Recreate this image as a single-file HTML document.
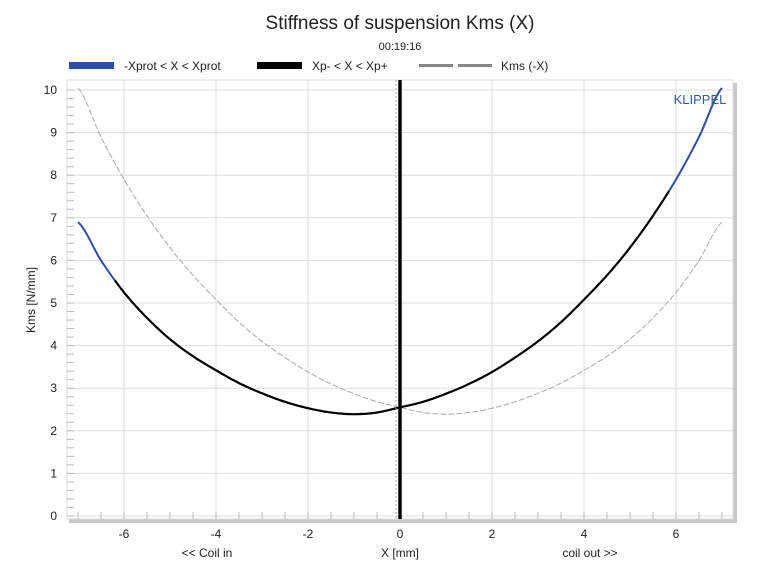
<!DOCTYPE html>
<html><head><meta charset="utf-8"><style>
body{margin:0;background:#fff;font-family:"Liberation Sans",sans-serif;}
svg text{font-family:"Liberation Sans",sans-serif;}
</style></head><body>
<svg id="c" width="765" height="573" xmlns="http://www.w3.org/2000/svg">
<text x="400" y="29" text-anchor="middle" font-size="19" fill="#222">Stiffness of suspension Kms (X)</text>
<text x="400" y="50" text-anchor="middle" font-size="11" fill="#222">00:19:16</text>
<g>
<rect x="69" y="62" width="45" height="7" fill="#2e50a3"/>
<text x="124" y="70" font-size="12" fill="#222">-Xprot &lt; X &lt; Xprot</text>
<rect x="257" y="62" width="45" height="7" fill="#000"/>
<text x="312" y="70" font-size="12" fill="#222">Xp- &lt; X &lt; Xp+</text>
<line x1="419" y1="65.5" x2="492" y2="65.5" stroke="#888" stroke-width="3" stroke-dasharray="34,5"/>
<text x="501" y="70" font-size="12" fill="#222">Kms (-X)</text>
</g>
<rect x="69" y="83" width="668" height="440" fill="#c8c8c8"/>
<rect x="67" y="80" width="666" height="439" fill="#fff" stroke="#ddd"/>
<g id="grid"></g><g id="axes"></g><g id="series"></g>
<text x="700" y="104" text-anchor="middle" font-size="13" fill="#3a5aa0">KLIPPEL</text>
<text x="400" y="557" text-anchor="middle" font-size="12" fill="#222">X [mm]</text>
<text x="207" y="557" text-anchor="middle" font-size="12" fill="#222">&lt;&lt; Coil in</text>
<text x="590" y="557" text-anchor="middle" font-size="12" fill="#222">coil out &gt;&gt;</text>
<text x="0" y="0" transform="translate(35,300) rotate(-90)" text-anchor="middle" font-size="12" fill="#222">Kms [N/mm]</text>
</svg>
<script>
const xs=[-7,-6.5,-6,-5.5,-5,-4.5,-4,-3.5,-3,-2.5,-2,-1.5,-1,-0.5,0,0.5,1,1.5,2,2.5,3,3.5,4,4.5,5,5.5,6,6.5,7];
const kms=[6.9,6.0,5.25,4.65,4.15,3.75,3.42,3.12,2.88,2.68,2.53,2.43,2.39,2.43,2.55,2.68,2.87,3.1,3.38,3.72,4.1,4.55,5.08,5.65,6.3,7.05,7.9,8.9,10.05];
const xTicks=[-6,-4,-2,0,2,4,6];
const yTicks=[0,1,2,3,4,5,6,7,8,9,10];
const xprotLimit=[-6.2,5.85];
const NS="http://www.w3.org/2000/svg";
const sx=v=>400+v*46, sy=v=>516-v*42.6;
function mk(t,a,p){const e=document.createElementNS(NS,t);for(const k in a)e.setAttribute(k,a[k]);p.appendChild(e);return e;}
const g=document.getElementById('grid'),ax=document.getElementById('axes'),s=document.getElementById('series');
xTicks.forEach(v=>{const l=mk('line',{x1:sx(v),x2:sx(v),y1:80,y2:519,stroke:'#ddd'},g);


const t=mk('text',{x:sx(v),y:538,'text-anchor':'middle','font-size':12,fill:'#222'},ax);t.textContent=v;

});
for(let v=-7;v<=7;v+=0.5){const l=mk('line',{x1:sx(v),x2:sx(v),y1:512,y2:519,stroke:'#bbb'},ax);

}
yTicks.forEach(v=>{const l=mk('line',{x1:67,x2:733,y1:sy(v),y2:sy(v),stroke:'#ddd'},g);


const t=mk('text',{x:57,y:sy(v)+4,'text-anchor':'end','font-size':12,fill:'#222'},ax);t.textContent=v;

});
for(let v=0;v<=10;v+=0.2){const l=mk('line',{x1:67,x2:74,y1:sy(v),y2:sy(v),stroke:'#bbb'},ax);

}
function smooth(x){let i=0;while(i<xs.length-2&&x>xs[i+1])i++;const p0=kms[Math.max(i-1,0)],p1=kms[i],p2=kms[i+1],p3=kms[Math.min(i+2,xs.length-1)];
const t=(x-xs[i])/(xs[i+1]-xs[i]);return 0.5*((2*p1)+(-p0+p2)*t+(2*p0-5*p1+4*p2-p3)*t*t+(-p0+3*p1-3*p2+p3)*t*t*t);}
function path(a,b,f){let d='';const n=Math.round((b-a)/0.05);for(let j=0;j<=n;j++){const x=a+(b-a)*j/n;d+=(d?'L':'M')+sx(x).toFixed(1)+','+sy(f(x)).toFixed(1);}return d;}
const m=mk('path',{d:path(-7,7,x=>smooth(-x)),fill:'none',stroke:'#aaa','stroke-width':1,'stroke-dasharray':'6,2'},s);


const b1=mk('path',{d:path(-7,xprotLimit[0],smooth),fill:'none',stroke:'#2e50a3','stroke-width':2},s);


const b2=mk('path',{d:path(xprotLimit[1],7,smooth),fill:'none',stroke:'#2e50a3','stroke-width':2},s);


const k=mk('path',{d:path(xprotLimit[0],xprotLimit[1],smooth),fill:'none',stroke:'#000','stroke-width':2.2},s);


const d0=mk('line',{x1:sx(0)-4,x2:sx(0)-4,y1:80,y2:519,stroke:'#aaa','stroke-dasharray':'2,2'},s);


const v0=mk('line',{x1:sx(0),x2:sx(0),y1:80,y2:519,stroke:'#000','stroke-width':3.5},s);


</script>
</body></html>
